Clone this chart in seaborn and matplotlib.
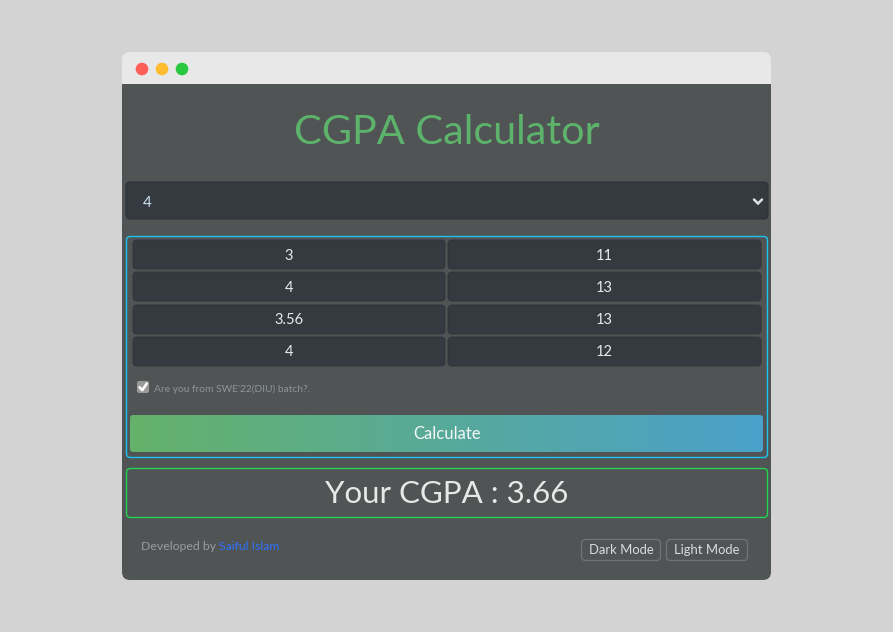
import numpy as np
import matplotlib
matplotlib.use("Agg")
import matplotlib.pyplot as plt
import seaborn as sns
from matplotlib.patches import FancyBboxPatch, Rectangle, Circle

# ---- data ----
semester_count = "4"
gpa_values = ["3", "4", "3.56", "4"]
credit_values = ["11", "13", "13", "12"]
cgpa_result = "3.66"
title_text = "CGPA Calculator"
checkbox_label = "Are you from SWE'22(DIU) batch?."
button_label = "Calculate"
author_prefix = "Developed by "
author_name = "Saiful Islam"
mode_buttons = ["Dark Mode", "Light Mode"]

sns.set_theme(style="white")
plt.rcParams['font.family'] = ['Lato', 'DejaVu Sans']

W, H = 893, 632
fig = plt.figure(figsize=(W / 100, H / 100), dpi=100)
fig.patch.set_facecolor("#d3d3d3")
ax = fig.add_axes([0, 0, 1, 1])
ax.set_xlim(0, W)
ax.set_ylim(H, 0)
ax.axis("off")

BODY = "#505455"
DARK = "#343a40"


def rbox(x, y, w, h, r, fc="none", ec="none", lw=1.0, z=1):
    p = FancyBboxPatch((x + r, y + r), w - 2 * r, h - 2 * r,
                       boxstyle=f"round,pad={r}", fc=fc, ec=ec, lw=lw, zorder=z)
    ax.add_patch(p)
    return p


# window
rbox(122, 52, 649, 528, 8, fc="#e8e8e8", z=1)
rbox(122, 84, 649, 496, 8, fc=BODY, z=2)
ax.add_patch(Rectangle((122, 84), 649, 12, fc=BODY, ec="none", zorder=2))
for cx, col in zip([142, 162, 182], ["#ff5f57", "#febc2e", "#28c840"]):
    ax.add_patch(Circle((cx, 69), 6.3, fc=col, ec="none", zorder=3))

# title
ax.text(447, 133, title_text, color="#5db36b", fontsize=29.8, fontweight="normal",
        ha="center", va="center", zorder=5)

# dropdown
rbox(126, 182, 642, 37, 4, fc=DARK, ec="#2e3338", lw=0.8, z=3)
ax.text(143, 203, semester_count, color="#cfe3f0", fontsize=11, ha="left",
        va="center", zorder=5)
ax.plot([754, 758, 762], [199.5, 203.5, 199.5], color="#dee2e6", lw=1.8,
        solid_capstyle="round", solid_joinstyle="miter", zorder=5)

# form box
rbox(126.5, 236.5, 641, 221, 4, fc="none", ec="#1cc4ee", lw=1.0, z=4)

row_top = [240, 272, 305, 337]
for i, (g, c) in enumerate(zip(gpa_values, credit_values)):
    y0 = row_top[i]
    rbox(133, y0, 312, 29, 4, fc=DARK, ec="#2f3439", lw=0.6, z=3)
    rbox(448, y0, 313, 29, 4, fc=DARK, ec="#2f3439", lw=0.6, z=3)
    ax.text(289, y0 + 15.5, g, color="#e6eaee", fontsize=10.5, ha="center",
            va="center", zorder=5)
    ax.text(604, y0 + 15.5, c, color="#e6eaee", fontsize=10.5, ha="center",
            va="center", zorder=5)

# checkbox
rbox(137, 381, 12, 12, 2, fc="#9a9a9a", ec="none", z=4)
ax.plot([139.5, 142.3, 146.8], [387.2, 390.2, 383.5], color="white", lw=1.8,
        solid_capstyle="round", zorder=5)
ax.text(154, 389.5, checkbox_label, color="#8f9496", fontsize=7.4, ha="left",
        va="center", zorder=5)

# gradient button
bx, by, bw, bh = 130, 415, 633, 37
clip = rbox(bx, by, bw, bh, 3, fc="none", z=3)
n = 2048
c0 = np.array([101, 178, 106]) / 255
c1 = np.array([74, 161, 203]) / 255
t = np.linspace(0, 1, n)
grad = (c0[None, :] * (1 - t[:, None]) + c1[None, :] * t[:, None])[None, :, :]
grad = np.repeat(grad, 4, axis=0)
im = ax.imshow(grad, extent=[bx, bx + bw, by + bh, by], aspect="auto",
               zorder=3, interpolation="bilinear", interpolation_stage="rgba")
im.set_clip_path(clip)
ax.text(447, 434, button_label, color="#f4f7f4", fontsize=12, ha="center",
        va="center", zorder=5)

# result box
rbox(126.5, 468.5, 641, 49, 4, fc="none", ec="#22d651", lw=1.0, z=4)
ax.text(447, 494, f"Your CGPA : {cgpa_result}", color="#e8e8e8", fontsize=22.5,
        ha="center", va="center", zorder=5)

# footer
t1 = ax.text(141, 547, author_prefix, color="#9a9c9d", fontsize=8.8, ha="left",
             va="center", zorder=5)
fig.canvas.draw()
bb = t1.get_window_extent()
x_end = ax.transData.inverted().transform((bb.x1, bb.y0))[0]
ax.text(x_end, 547, author_name, color="#2f72ff", fontsize=8.8, ha="left",
        va="center", zorder=5)

btn_x = [581, 666]
btn_w = [79, 81]
for lbl, x0, w in zip(mode_buttons, btn_x, btn_w):
    rbox(x0 + 0.5, 539.5, w, 21, 4, fc="none", ec="#6f7476", lw=0.9, z=4)
    ax.text(x0 + w / 2 + 0.5, 550.5, lbl, color="#dadcdd", fontsize=9.4,
            ha="center", va="center", zorder=5)

fig.savefig("out.png", dpi=100, facecolor=fig.get_facecolor())
